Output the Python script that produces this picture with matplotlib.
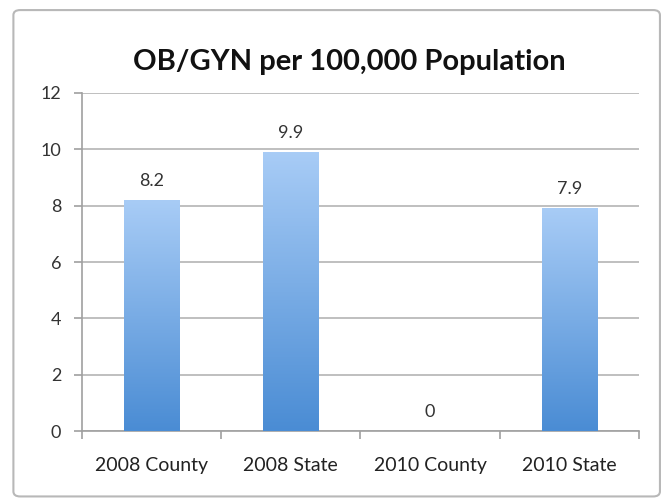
import matplotlib
matplotlib.use("Agg")
import matplotlib.pyplot as plt
import numpy as np
from matplotlib.patches import FancyBboxPatch
from matplotlib.colors import LinearSegmentedColormap

categories = ["2008 County", "2008 State", "2010 County", "2010 State"]
values = [8.2, 9.9, 0, 7.9]
y_ticks = [0, 2, 4, 6, 8, 10, 12]
title = "OB/GYN per 100,000 Population"

plt.rcParams['font.family'] = ['Lato', 'DejaVu Sans']

fig = plt.figure(figsize=(6.7, 5.04), dpi=100)
fig.patch.set_facecolor("white")

# rounded frame around the chart
frame = FancyBboxPatch((0.02, 0.015), 0.965, 0.965,
                       boxstyle="round,pad=0,rounding_size=0.01",
                       transform=fig.transFigure, facecolor="white",
                       edgecolor="#b8b8b8", linewidth=1.5, zorder=-10)
fig.patches.append(frame)

ax = fig.add_axes([0.1224, 0.1448, 0.8313, 0.6707])
ax.set_facecolor("none")
ax.set_zorder(5)

x = np.arange(len(categories))
bar_w = 0.4
bars = ax.bar(x, values, width=bar_w, color="none", edgecolor="none", zorder=3)

cmap = LinearSegmentedColormap.from_list("bluegrad", ["#4a8cd4", "#a8ccf6"])
grad = np.linspace(0, 1, 256).reshape(-1, 1)
for b, v in zip(bars, values):
    if v <= 0:
        continue
    x0 = b.get_x()
    im = ax.imshow(grad, extent=[x0, x0 + bar_w, 0, v], origin="lower",
                   cmap=cmap, aspect="auto", zorder=3)
    im.set_clip_path(b)

for xi, v in zip(x, values):
    ax.annotate(f"{v:g}", (xi, v), xytext=(0, 8), textcoords="offset points",
                ha="center", va="bottom", fontsize=13, color="#333333", zorder=4)

ax.set_xlim(-0.5, len(categories) - 0.5)
ax.set_ylim(0, 12)
ax.set_yticks(y_ticks)
ax.set_yticklabels([str(t) for t in y_ticks], fontsize=13, color="#333333")
ax.yaxis.grid(True, color="#b4b4b4", linewidth=1.2, zorder=0)
ax.set_axisbelow(True)

# category labels centred, tick marks on the boundaries
ax.set_xticks(x)
ax.set_xticklabels(categories, fontsize=14, color="#222222")
ax.tick_params(axis="x", length=0, pad=19)
ax.set_xticks(np.arange(-0.5, len(categories) + 0.5, 1), minor=True)
ax.tick_params(axis="x", which="minor", length=6, color="#a0a0a0", width=1.2)
ax.tick_params(axis="y", length=6, color="#a0a0a0", width=1.2, pad=9)

for s in ["top", "right"]:
    ax.spines[s].set_visible(False)
ax.spines["left"].set_color("#a0a0a0")
ax.spines["bottom"].set_color("#a0a0a0")
ax.spines["left"].set_linewidth(1.2)
ax.spines["bottom"].set_linewidth(1.2)

fig.text(0.522, 0.877, title, ha="center", va="center",
         fontsize=21, fontweight="bold", color="#111111")

fig.savefig("out.png", dpi=100, facecolor="white")
